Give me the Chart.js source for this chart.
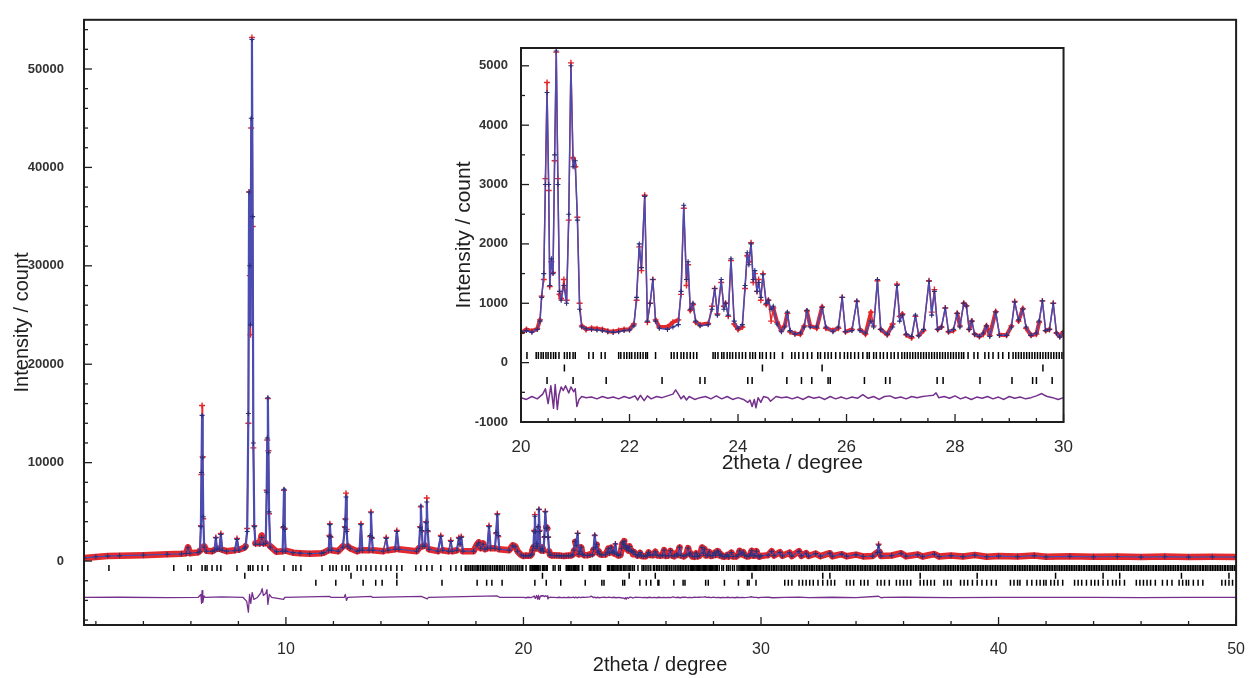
<!DOCTYPE html>
<html><head><meta charset="utf-8">
<script src="https://cdn.jsdelivr.net/npm/chart.js@4.4.1/dist/chart.umd.min.js"></script>
<style>
html,body{margin:0;padding:0;background:#fff;}
#wrap{position:relative;width:1252px;height:678px;overflow:hidden;}
#main{position:absolute;left:0;top:0;width:1252px;height:678px;}
#inset{position:absolute;left:440px;top:28px;width:640px;height:460px;}
</style></head><body>
<div id="wrap"><canvas id="main" width="1252" height="678"></canvas><canvas id="inset" width="640" height="460"></canvas></div>
<script>
// ---------- DATA ----------
// profile points: [2theta, observed, calculated]
const profileLow = [
[1.5,300,320],[2.0,420,430],[2.5,500,500],[3.0,540,550],[4.0,600,610],[5.0,680,690],[5.6,730,720],[5.8,780,770],[5.88,1400,1350],[5.96,800,790],
[6.3,880,870],[6.38,1050,1000],[6.42,3600,3500],[6.445,8800,9000],[6.47,15800,14800],[6.495,10600,10500],[6.52,4300,4500],[6.56,1500,1400],[6.65,1050,1000],
[6.9,1000,980],[7.0,1150,1100],[7.05,2400,2350],[7.1,1250,1200],[7.2,1250,1200],[7.26,2800,2700],[7.32,1150,1100],[7.5,1000,1000],[7.85,1100,1050],[7.94,2300,2200],[8.02,1150,1100],
[8.25,1350,1300],[8.3,1500,1400],[8.37,3300,3000],[8.42,14000,15000],[8.45,37500,37500],[8.48,29000,30000],[8.51,23000,24000],[8.54,44000,45000],[8.57,53200,53000],[8.6,34000,35000],[8.63,11500,12000],[8.67,3600,3500],[8.72,1800,1700],
[8.9,1800,1700],[8.98,2600,2400],[9.05,1800,1700],[9.15,1800,1800],[9.19,7200,7000],[9.215,12300,12500],[9.24,16500,16600],[9.265,11200,11000],[9.29,4800,5000],[9.34,1500,1400],
[9.6,950,950],[9.86,1000,1000],[9.89,3400,3500],[9.92,7200,7300],[9.95,3300,3200],[9.99,1050,1000],[10.3,850,850],[10.6,800,800],[11.0,750,750],[11.5,800,800],[11.6,850,850],
[11.8,1100,1100],[11.83,2600,2500],[11.85,3800,3700],[11.88,2400,2500],[11.92,1100,1100],[12.2,1000,1000],[12.4,1500,1400],[12.48,3500,3400],[12.505,4300,4200],[12.53,6900,6500],[12.56,3200,3000],[12.6,1500,1500],[12.7,1300,1300],
[13.0,1000,1000],[13.1,1100,1100],[13.16,3800,3700],[13.22,1100,1100],[13.5,1100,1100],[13.55,2500,2600],[13.58,5000,4900],[13.62,2300,2400],[13.66,1100,1100],
[14.1,1000,1000],[14.22,2400,2300],[14.3,1100,1100],[14.6,1200,1200],[14.67,3100,3000],[14.75,1200,1200],[15.5,1000,1000],[15.6,1300,1300],[15.65,3500,3400],[15.68,5500,5600],[15.72,3000,3100],[15.76,1500,1500],
[15.85,1600,1500],[15.9,4000,3900],[15.93,6400,6000],[15.97,3000,3100],[16.02,1200,1200],[16.4,1000,1000],[16.52,2600,2500],[16.6,1100,1100],[16.85,1000,1000],[16.94,2100,2000],[17.0,1000,1000],
[17.2,1100,1100],[17.28,2400,2300],[17.33,1700,1700],[17.38,2500,2400],[17.45,1000,1000],[17.9,1000,1000],[18.05,1700,1600],[18.12,1900,1850],[18.2,1300,1300],[18.3,1800,1700],[18.38,1200,1200],
[18.48,1300,1300],[18.55,3600,3500],[18.62,1300,1300],[18.8,1300,1300],[18.85,2800,2900],[18.9,4800,4700],[18.94,2500,2600],[18.98,1200,1200],[19.4,1100,1100],[19.55,1600,1550],[19.65,1500,1450],[19.75,1000,1000],[19.9,620,620]
];
const profileInset = [
[20.0,500,520],[20.1,560,540],[20.2,530,510],[20.3,570,560],[20.35,720,700],[20.38,1120,1100],[20.42,1400,1500],[20.45,3100,3000],[20.48,4720,4550],[20.51,2900,3000],
[20.53,1280,1300],[20.56,1700,1750],[20.59,1520,1500],[20.62,3400,3500],[20.65,5230,5250],[20.68,3100,3000],[20.71,1150,1200],[20.74,1080,1050],[20.79,1400,1300],[20.84,1050,1000],
[20.88,2400,2500],[20.92,5050,5000],[20.96,3450,3300],[21.0,3300,3400],[21.04,2450,2400],[21.08,1000,900],[21.12,620,600],[21.2,560,570],[21.3,580,560],[21.4,570,550],
[21.5,560,540],[21.6,530,520],[21.7,520,510],[21.8,540,520],[21.9,560,540],[22.0,560,550],[22.08,650,620],[22.13,1050,1100],[22.18,1950,2000],[22.22,1550,1600],
[22.28,2820,2800],[22.33,680,700],[22.38,1000,1000],[22.43,1400,1400],[22.48,720,700],[22.55,600,580],[22.7,600,560],[22.8,680,600],[22.9,720,640],[22.95,1150,1200],
[23.0,2600,2650],[23.05,1300,1400],[23.08,1650,1700],[23.12,880,900],[23.17,980,1000],[23.22,680,700],[23.3,640,620],[23.45,660,640],[23.52,950,900],[23.57,1250,1250],
[23.62,820,800],[23.69,1350,1400],[23.74,950,900],[23.77,1000,1000],[23.82,780,800],[23.87,1720,1750],[23.93,650,700],[24.0,560,580],[24.08,600,640],[24.13,1250,1300],
[24.17,1800,1850],[24.2,1700,1650],[24.24,2020,2000],[24.28,1350,1400],[24.31,1500,1550],[24.35,1200,1200],[24.38,1400,1350],[24.42,1050,1100],[24.46,1500,1480],[24.52,980,1000],
[24.56,1050,1050],[24.61,700,900],[24.65,920,950],[24.72,680,650],[24.8,540,520],[24.86,620,600],[24.91,830,850],[24.96,520,540],[25.05,490,480],[25.15,480,500],
[25.22,620,600],[25.27,870,880],[25.33,620,600],[25.45,580,600],[25.55,940,930],[25.62,580,600],[25.75,540,520],[25.85,580,600],[25.92,1100,1100],[25.98,520,520],
[26.1,560,540],[26.19,1030,1040],[26.25,560,540],[26.35,480,500],[26.45,850,700],[26.5,620,600],[26.57,1380,1400],[26.63,560,560],[26.75,470,480],[26.85,650,600],
[26.93,1320,1300],[26.98,780,700],[27.03,820,800],[27.1,470,480],[27.2,420,440],[27.27,780,800],[27.33,460,450],[27.42,540,560],[27.52,1380,1370],[27.57,850,800],
[27.62,1230,1200],[27.68,560,560],[27.75,600,600],[27.82,920,920],[27.88,520,520],[27.97,540,560],[28.04,830,830],[28.09,620,600],[28.16,1000,1000],[28.21,960,950],
[28.26,560,560],[28.31,700,700],[28.36,480,480],[28.45,440,440],[28.52,480,500],[28.58,620,620],[28.64,460,440],[28.75,860,850],[28.82,470,460],[28.95,460,460],
[29.04,620,600],[29.1,1030,1020],[29.17,700,720],[29.25,910,900],[29.31,580,600],[29.4,460,460],[29.5,480,500],[29.55,680,700],[29.61,1040,1040],[29.67,540,540],
[29.74,560,560],[29.81,1000,1000],[29.87,500,500],[29.93,440,430],[30.0,520,520]
];
const profileHigh = [
[30.3,600,600],[30.45,1000,980],[30.55,560,550],[30.8,900,880],[30.9,530,520],[31.2,850,840],[31.3,510,500],[31.6,1000,980],[31.7,530,520],[31.9,800,790],
[32.0,510,500],[32.3,760,750],[32.5,490,480],[32.9,800,800],[33.0,490,480],[33.4,700,700],[33.6,490,480],[34.0,650,650],[34.3,470,460],[34.7,520,500],
[34.9,900,850],[34.95,1700,1600],[35.0,900,880],[35.05,520,500],[35.5,560,550],[35.9,800,790],[36.1,490,480],[36.6,660,650],[36.8,460,450],[37.3,710,700],
[37.5,460,450],[38.0,560,550],[38.5,460,450],[39.0,610,600],[39.5,440,430],[40.0,510,500],[40.8,460,450],[41.5,560,550],[42.0,430,420],[43.0,490,480],
[44.0,430,420],[45.0,470,460],[46.0,410,400],[47.0,450,440],[48.0,410,400],[49.0,430,420],[50.0,410,400]
];
// difference curve (observed - calculated): [2theta, difference]
const diffLow = [[1.5,0],[3,20],[5,-20],[6.3,0],[6.42,300],[6.45,-600],[6.47,700],[6.5,-500],[6.55,150],[6.6,0],[7.3,50],[8.2,0],[8.35,-400],[8.42,-1500],[8.47,300],[8.52,-600],[8.58,500],[8.65,-200],[8.8,0],[8.95,500],[9.0,900],[9.05,200],[9.15,400],[9.2,800],[9.24,-700],[9.3,300],[9.4,0],[9.9,-200],[9.95,0],[11.85,100],[11.9,0],[12.45,0],[12.5,300],[12.55,-300],[12.6,0],[13.6,100],[13.65,0],[15.7,100],[15.95,-150],[16.0,0],[18.9,150],[19.0,0],[19.9,0]];
const diffInset = [[20.0,0],[20.1,-30],[20.2,20],[20.3,-20],[20.4,60],[20.45,150],[20.5,-100],[20.55,200],[20.6,-180],[20.63,220],[20.67,-200],[20.7,50],[20.74,180],[20.78,120],[20.82,200],[20.88,80],[20.92,180],[20.97,100],[21.0,150],[21.03,-150],[21.07,-30],[21.12,20],[21.2,0],[21.3,10],[21.4,-20],[21.5,20],[21.6,-10],[21.7,10],[21.8,-20],[21.9,20],[22.0,-10],[22.1,30],[22.15,-40],[22.2,40],[22.27,-50],[22.33,30],[22.4,-20],[22.5,20],[22.6,0],[22.7,30],[22.8,60],[22.85,130],[22.9,60],[22.95,-20],[23.0,30],[23.05,-40],[23.1,20],[23.2,-30],[23.3,0],[23.4,20],[23.5,-20],[23.6,30],[23.7,-20],[23.8,20],[23.9,-30],[24.0,0],[24.1,-30],[24.18,-80],[24.22,-40],[24.26,-150],[24.3,-30],[24.33,-170],[24.37,0],[24.42,-80],[24.47,20],[24.55,0],[24.6,-60],[24.7,20],[24.8,0],[24.9,10],[25.0,-20],[25.1,10],[25.2,-30],[25.3,20],[25.4,-10],[25.5,10],[25.6,-30],[25.7,20],[25.8,-20],[25.9,10],[26.0,-20],[26.1,10],[26.2,-10],[26.3,50],[26.4,-10],[26.5,20],[26.6,-30],[26.7,20],[26.8,30],[26.9,-10],[27.0,10],[27.1,-20],[27.2,20],[27.3,0],[27.4,20],[27.5,30],[27.6,40],[27.65,80],[27.7,0],[27.8,20],[27.9,-10],[28.0,30],[28.1,-20],[28.2,10],[28.3,-30],[28.4,10],[28.5,-10],[28.6,20],[28.7,-20],[28.8,10],[28.9,-30],[29.0,20],[29.1,-10],[29.2,10],[29.3,-20],[29.4,0],[29.5,30],[29.6,70],[29.65,40],[29.7,20],[29.8,0],[29.9,-30],[30.0,0]];
const diffHigh = [[30.3,20],[30.5,-30],[31,10],[31.6,30],[32,-10],[33,20],[34,-10],[34.95,120],[35.05,-30],[35.2,0],[36,20],[38,-10],[40,10],[42,0],[44,10],[46,-10],[48,0],[50,0]];
// reflection positions (2theta) of the three phases
const phase1Ticks = [2.55,5.28,5.87,6.01,6.47,6.6,6.68,6.89,7.1,7.26,7.94,8.42,8.5,8.61,8.82,9.0,9.24,9.92,10.3,10.42,10.63,11.52,11.85,11.98,12.12,12.36,12.53,12.65,13.0,13.16,13.37,13.58,13.79,14.0,14.22,14.42,14.67,14.88,15.47,15.68,15.93,16.15,16.52,16.94,17.16,17.38,
17.55,17.62,17.7,17.78,17.85,17.92,18.0,18.06,18.12,18.2,18.28,18.33,18.4,18.47,18.55,18.62,18.7,18.78,18.85,18.9,18.98,19.05,19.12,19.2,19.3,19.38,19.45,19.52,19.6,19.68,19.75,19.82,19.9,19.97,
20.11,20.28,20.32,20.37,20.41,20.46,20.5,20.55,20.6,20.64,20.7,20.8,20.85,20.9,20.96,21.0,21.25,21.33,21.48,21.55,21.8,21.84,21.9,21.95,22.0,22.04,22.1,22.15,22.2,22.25,22.3,22.33,22.48,
22.77,22.82,22.88,22.95,23.0,23.06,23.12,23.18,23.24,23.54,23.58,23.63,23.7,23.74,23.8,23.85,23.9,23.96,24.02,24.08,24.14,24.22,24.27,24.32,24.4,24.45,24.52,24.6,24.67,24.82,
24.99,25.05,25.12,25.2,25.28,25.36,25.47,25.52,25.6,25.66,25.72,25.8,25.88,25.96,26.02,26.08,26.15,26.22,26.3,26.38,26.42,26.5,26.55,26.62,26.68,26.75,26.82,26.88,26.95,
27.02,27.07,27.12,27.17,27.22,27.27,27.32,27.37,27.42,27.47,27.52,27.57,27.62,27.67,27.72,27.77,27.82,27.87,27.92,27.97,28.02,28.07,28.12,28.16,28.24,28.35,28.42,28.55,28.62,28.7,28.8,28.88,28.99,
29.07,29.12,29.17,29.22,29.27,29.32,29.37,29.42,29.47,29.52,29.57,29.62,29.67,29.72,29.77,29.82,29.87,29.92,29.97,
30.04,30.1,30.17,30.24,30.3,30.37,30.45,30.52,30.58,30.65,30.72,30.8,30.86,30.93,31.0,31.07,31.14,31.2,31.28,31.35,31.41,31.48,31.56,31.62,31.7,31.77,31.84,31.9,31.97,
32.05,32.12,32.18,32.25,32.33,32.4,32.46,32.53,32.6,32.68,32.74,32.82,32.88,32.95,33.02,33.09,33.16,33.23,33.3,33.36,33.44,33.5,33.58,33.64,33.71,33.78,33.85,33.92,33.98,
34.06,34.12,34.2,34.26,34.34,34.4,34.47,34.55,34.61,34.68,34.76,34.82,34.9,34.96,35.04,35.1,35.18,35.24,35.31,35.38,35.45,35.52,35.6,35.66,35.73,35.8,35.87,35.94,
36.0,36.08,36.14,36.21,36.28,36.35,36.42,36.5,36.56,36.63,36.7,36.77,36.84,36.91,36.98,37.05,37.12,37.2,37.27,37.33,37.41,37.48,37.55,37.62,37.7,37.76,37.83,37.9,37.97,
38.04,38.11,38.18,38.26,38.32,38.4,38.47,38.54,38.61,38.68,38.75,38.82,38.9,38.96,39.03,39.1,39.17,39.24,39.31,39.38,39.46,39.52,39.6,39.67,39.74,39.81,39.88,39.95,
40.02,40.09,40.16,40.23,40.3,40.38,40.44,40.52,40.58,40.66,40.72,40.8,40.87,40.94,41.01,41.08,41.15,41.22,41.3,41.36,41.43,41.5,41.58,41.64,41.72,41.78,41.86,41.93,
42.0,42.07,42.14,42.21,42.28,42.36,42.42,42.5,42.57,42.64,42.71,42.78,42.85,42.92,42.99,43.06,43.13,43.2,43.27,43.35,43.41,43.48,43.56,43.62,43.7,43.77,43.84,43.91,43.98,
44.05,44.12,44.19,44.26,44.34,44.4,44.48,44.55,44.62,44.69,44.76,44.83,44.9,44.97,45.04,45.11,45.18,45.25,45.32,45.4,45.46,45.54,45.6,45.68,45.74,45.82,45.89,45.96,
46.03,46.1,46.17,46.24,46.31,46.38,46.46,46.52,46.6,46.66,46.74,46.8,46.88,46.95,47.02,47.09,47.16,47.23,47.3,47.37,47.44,47.52,47.58,47.66,47.72,47.8,47.86,47.94,
48.01,48.08,48.15,48.22,48.29,48.36,48.44,48.5,48.58,48.64,48.72,48.78,48.86,48.93,49.0,49.07,49.14,49.21,49.28,49.35,49.42,49.5,49.56,49.64,49.7,49.78,49.84,49.92,49.98];
const phase2Ticks = [8.27,12.74,14.67,20.8,24.45,25.55,29.62,32.6,32.9,36.7,39.1,42.4,44.4,45.1,47.7,49.7];
const phase3Ticks = [11.26,12.1,13.25,13.78,14.05,14.67,16.57,18.05,18.45,18.67,19.1,
20.48,20.96,21.57,22.6,23.3,23.39,24.18,24.26,24.9,25.17,25.36,25.66,25.7,26.33,26.72,26.8,27.67,27.78,28.46,29.05,29.43,29.5,29.79,
31.0,31.15,31.3,31.6,31.75,31.9,32.05,32.2,32.4,32.6,32.8,32.95,33.1,33.6,33.75,33.9,34.2,34.35,34.5,34.9,35.05,35.2,35.4,35.7,35.85,36.0,36.15,36.3,
36.7,36.85,37.0,37.15,37.3,37.7,37.85,38.0,38.4,38.55,38.7,38.9,39.1,39.3,39.5,39.7,39.9,40.5,40.65,40.8,40.9,41.2,41.4,41.6,41.75,41.9,
42.0,42.2,42.35,42.5,42.7,43.2,43.35,43.5,43.7,43.9,44.05,44.2,44.4,44.6,44.8,44.95,45.1,45.3,45.8,45.95,46.1,46.25,46.4,46.6,46.9,47.1,47.3,
47.6,47.75,47.9,48.0,48.2,48.4,48.6,49.4,49.55,49.7,49.85];
// axis ticks and labels
const mainXTicks = [2,4,6,8,10,12,14,16,18,20,22,24,26,28,30,32,34,36,38,40,42,44,46,48,50];
const mainXLabels = [10,20,30,40,50];
const mainYTicks = [-6000,-4000,-2000,0,2000,4000,6000,8000,10000,12000,14000,16000,18000,20000,22000,24000,26000,28000,30000,32000,34000,36000,38000,40000,42000,44000,46000,48000,50000,52000,54000];
const mainYLabels = [0,10000,20000,30000,40000,50000];
const insetXTicks = [20,20.5,21,21.5,22,22.5,23,23.5,24,24.5,25,25.5,26,26.5,27,27.5,28,28.5,29,29.5,30];
const insetXLabels = [20,22,24,26,28,30];
const insetYTicks = [-1000,-500,0,500,1000,1500,2000,2500,3000,3500,4000,4500,5000];
const insetYLabels = [-1000,0,1000,2000,3000,4000,5000];
const xTitle = '2theta / degree';
const yTitle = 'Intensity / count';

// ---------- STYLE ----------
const FONT = "'Liberation Sans', Arial, Helvetica, sans-serif";
const RED = '#e3292c', BLUE = '#4a4cb2', NAVY = '#2d2f7a', PURPLE = '#74308c', INK = '#1e1e1e';

const steep = c => Math.abs(c.p1.y - c.p0.y) > 4 * Math.abs(c.p1.x - c.p0.x) + 2;

function buildDatasets(cfg) {
  const prof = profileLow.concat(profileInset, profileHigh);
  const obs = prof.map(p => ({x: p[0], y: p[1]}));
  const calc = prof.map(p => ({x: p[0], y: p[2]}));
  const diff = diffLow.concat(diffInset, diffHigh).map(p => ({x: p[0], y: p[1] + cfg.diffOffset}));
  const tk = (arr, lvl) => arr.map(x => ({x: x, y: lvl}));
  const tickDs = (label, arr, lvl) => ({label, data: tk(arr, lvl), order: 1, showLine: false,
    pointStyle: 'line', rotation: 90, pointRadius: cfg.tickR, pointBorderWidth: cfg.tickW,
    pointBorderColor: '#000', pointBackgroundColor: '#000'});
  return [
    {label: 'Observed', data: obs, order: 5, showLine: true, borderColor: RED, borderWidth: cfg.thick,
      borderJoinStyle: 'round', borderCapStyle: 'round',
      segment: {borderWidth: c => steep(c) ? cfg.thin : cfg.thick},
      pointStyle: 'cross', pointRadius: cfg.obsR, pointBorderWidth: 1.4, pointBorderColor: RED, pointBackgroundColor: RED},
    {label: 'Calculated', data: calc, order: 4, showLine: true, borderColor: BLUE, borderWidth: cfg.calcW,
      borderJoinStyle: 'round',
      segment: {borderWidth: c => steep(c) ? cfg.calcW : cfg.calcFlatW},
      pointStyle: 'cross', pointRadius: cfg.calcR, pointBorderWidth: 1.1, pointBorderColor: NAVY, pointBackgroundColor: NAVY},
    {label: 'Difference', data: diff, order: 3, showLine: true, borderColor: PURPLE, borderWidth: cfg.diffW, pointRadius: 0,
      borderJoinStyle: 'round'},
    tickDs('Phase 1', phase1Ticks, cfg.row1),
    tickDs('Phase 2', phase2Ticks, cfg.row2),
    tickDs('Phase 3', phase3Ticks, cfg.row3)
  ];
}

const framePlugin = {
  id: 'frame',
  afterDraw(chart, args, o) {
    const ctx = chart.ctx, a = chart.chartArea, xs = chart.scales.x, ys = chart.scales.y;
    ctx.save();
    ctx.strokeStyle = INK;
    ctx.lineWidth = 1.3;
    xs.ticks.forEach(t => {
      const px = xs.getPixelForValue(t.value);
      const len = o.xMajor.includes(t.value) ? o.major : o.minor;
      ctx.beginPath(); ctx.moveTo(px, a.bottom); ctx.lineTo(px, a.bottom - len); ctx.stroke();
    });
    ys.ticks.forEach(t => {
      const py = ys.getPixelForValue(t.value);
      const len = o.yMajor.includes(t.value) ? o.major : o.minor;
      ctx.beginPath(); ctx.moveTo(a.left, py); ctx.lineTo(a.left + len, py); ctx.stroke();
    });
    ctx.lineWidth = 2;
    ctx.strokeRect(a.left, a.top, a.right - a.left, a.bottom - a.top);
    ctx.restore();
  }
};

function makeChart(id, cfg) {
  return new Chart(document.getElementById(id), {
    type: 'scatter',
    data: {datasets: buildDatasets(cfg)},
    plugins: [framePlugin],
    options: {
      responsive: false, animation: false, devicePixelRatio: 1,
      layout: {padding: cfg.padding},
      plugins: {legend: {display: false}, tooltip: {enabled: false},
        frame: {xMajor: cfg.xLabels, yMajor: cfg.yLabels, major: cfg.majorLen, minor: cfg.minorLen}},
      scales: {
        x: {type: 'linear', min: cfg.xMin, max: cfg.xMax,
          afterBuildTicks: s => { s.ticks = cfg.xTicks.map(v => ({value: v})); },
          afterFit: s => { s.height = cfg.xHeight; },
          grid: {display: false}, border: {display: false},
          ticks: {autoSkip: false, maxRotation: 0, padding: cfg.xPad, color: '#2a2a2a',
            font: {family: FONT, size: cfg.xFont},
            callback: v => cfg.xLabels.includes(v) ? String(v) : ''},
          title: {display: true, text: xTitle, color: INK, font: {family: FONT, size: cfg.titleSize},
            padding: {top: 0, bottom: cfg.xTitlePad}}},
        y: {type: 'linear', min: cfg.yMin, max: cfg.yMax,
          afterBuildTicks: s => { s.ticks = cfg.yTicks.map(v => ({value: v})); },
          afterFit: s => { s.width = cfg.yWidth; },
          grid: {display: false}, border: {display: false},
          ticks: {autoSkip: false, padding: cfg.yPad, color: '#333',
            font: {family: FONT, size: cfg.yFont, weight: 'bold'},
            callback: v => cfg.yLabels.includes(v) ? String(v) : ''},
          title: {display: true, text: yTitle, color: INK, font: {family: FONT, size: cfg.titleSize},
            padding: {top: 4, bottom: 0}}}
      }
    }
  });
}

makeChart('main', {
  xMin: 1.5, xMax: 50, yMin: -6500, yMax: 55000,
  xTicks: mainXTicks, xLabels: mainXLabels, yTicks: mainYTicks, yLabels: mainYLabels,
  padding: {left: 6, right: 11, top: 13, bottom: 0}, xHeight: 53, yWidth: 78,
  xPad: 7, yPad: 12, xFont: 16, yFont: 13, titleSize: 20, xTitlePad: 1,
  majorLen: 8, minorLen: 4,
  thick: 6.5, thin: 1.4, obsR: 3, calcW: 2.2, calcFlatW: 1.2, calcR: 2.5, diffW: 1.3,
  tickR: 3, tickW: 1.5, row1: -700, row2: -1500, row3: -2200, diffOffset: -3700
});

makeChart('inset', {
  xMin: 20, xMax: 30, yMin: -1000, yMax: 5300,
  xTicks: insetXTicks, xLabels: insetXLabels, yTicks: insetYTicks, yLabels: insetYLabels,
  padding: {left: 8, right: 12, top: 20, bottom: 8}, xHeight: 58, yWidth: 73,
  xPad: 7, yPad: 5, xFont: 17, yFont: 13, titleSize: 21, xTitlePad: 4,
  majorLen: 8, minorLen: 4,
  thick: 4, thin: 1.4, obsR: 3, calcW: 1.5, calcFlatW: 1.5, calcR: 2.5, diffW: 1.5,
  tickR: 3.5, tickW: 1.5, row1: 120, row2: -90, row3: -300, diffOffset: -590
});
</script>
</body></html>
